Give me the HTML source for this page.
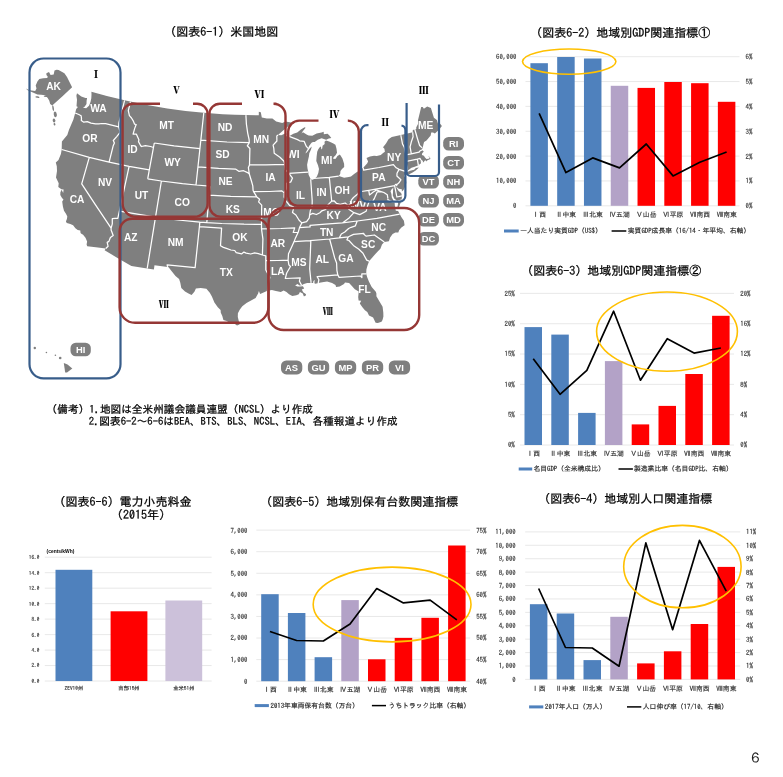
<!DOCTYPE html>
<html lang="ja"><head><meta charset="utf-8"><title>図表6</title>
<style>
html,body{margin:0;padding:0;background:#fff;}
body{width:783px;height:777px;overflow:hidden;}
svg{display:block;}
text{font-family:"IPAGothic","Liberation Sans","Noto Sans CJK JP",sans-serif;}
.st{font-family:"Liberation Sans",sans-serif;font-weight:bold;font-size:10.2px;fill:#fff;text-anchor:middle;}
.rn{font-family:"Noto Serif CJK SC","Noto Serif CJK JP","Liberation Serif",serif;font-weight:900;font-size:10px;fill:#000;text-anchor:middle;}
.ti{font-size:12px;fill:#000;stroke:#000;stroke-width:0.25px;}
.ax{font-size:6.8px;fill:#2b2b2b;stroke:#2b2b2b;stroke-width:0.12px;}
.lg{font-size:6.8px;fill:#222;stroke:#222;stroke-width:0.15px;}
</style></head><body>
<svg width="783" height="777" viewBox="0 0 783 777">
<rect width="783" height="777" fill="#fff"/>
<text x="164.2" y="35.7" class="ti">（図表6-1）米国地図</text>
<g id="usmap">
<path d="M77.0,93.3 L81.3,96.6 L85.5,98.1 L87.1,98.1 L86.6,100.7 L86.5,104.0 L84.6,106.8 L83.0,107.7 L86.2,108.2 L89.0,105.7 L90.5,101.9 L91.3,98.3 L91.5,94.6 L91.4,91.8 L106.8,96.0 L124.6,100.3 L142.9,104.2 L167.2,108.4 L185.6,110.9 L203.8,112.8 L222.6,114.2 L234.9,114.8 L245.9,115.1 L258.8,115.2 L258.8,111.8 L260.8,112.3 L261.8,117.4 L266.8,118.5 L269.9,118.5 L272.4,118.4 L276.2,121.6 L282.2,123.1 L285.6,121.4 L291.0,122.4 L293.9,123.1 L288.6,126.1 L283.7,129.9 L280.0,133.2 L278.1,135.1 L281.3,135.3 L285.1,133.5 L286.7,133.4 L285.8,136.2 L289.1,136.3 L293.4,133.7 L297.2,132.4 L300.9,129.4 L304.6,127.2 L305.6,127.7 L302.6,131.6 L301.5,133.4 L303.0,132.2 L307.0,134.8 L308.7,135.6 L312.3,135.8 L316.6,133.4 L321.6,132.4 L323.7,131.7 L323.8,134.2 L327.6,133.8 L329.4,135.4 L331.3,137.9 L328.8,138.5 L326.1,139.7 L321.6,138.2 L317.8,139.8 L314.7,141.9 L313.1,142.0 L311.8,142.4 L310.9,143.6 L309.1,146.0 L308.0,148.4 L305.9,152.2 L305.5,153.6 L307.2,152.1 L309.9,148.2 L311.8,146.4 L311.0,149.5 L309.3,153.3 L308.9,156.5 L308.0,160.2 L307.1,164.8 L307.5,168.5 L308.3,172.1 L308.6,174.8 L309.9,177.6 L310.7,179.2 L312.6,179.8 L315.0,178.5 L316.9,176.4 L318.3,173.0 L319.0,168.9 L318.0,165.3 L316.3,160.9 L316.6,156.7 L317.2,151.7 L318.3,149.3 L320.1,146.8 L321.0,146.8 L321.3,149.5 L322.2,148.5 L322.6,145.7 L324.7,144.1 L324.5,141.8 L326.0,140.5 L329.1,141.6 L332.9,143.2 L335.4,144.7 L335.9,146.5 L336.5,148.7 L337.0,152.7 L335.6,155.2 L333.5,157.3 L333.3,159.1 L335.7,158.8 L337.4,155.9 L339.9,154.5 L342.4,158.5 L344.1,163.7 L344.2,166.9 L342.0,169.1 L340.5,171.1 L340.2,173.9 L338.7,176.1 L341.9,176.9 L344.1,177.7 L348.9,176.9 L351.0,176.6 L354.1,173.9 L358.4,171.1 L361.1,169.1 L363.2,167.7 L367.1,163.5 L368.1,161.5 L366.5,158.1 L370.0,156.4 L374.0,155.8 L376.8,156.1 L380.8,155.1 L383.1,153.0 L384.9,151.8 L384.4,148.8 L383.0,147.2 L386.0,143.4 L388.5,139.2 L391.8,137.1 L400.8,135.1 L406.3,133.8 L412.7,132.3 L412.8,129.9 L416.3,129.0 L416.2,127.5 L418.0,123.9 L418.0,120.2 L418.6,117.7 L421.2,107.1 L422.7,107.1 L423.9,108.8 L427.2,106.5 L430.9,108.0 L433.9,117.7 L436.9,120.1 L437.9,123.6 L439.9,123.5 L441.9,126.0 L439.8,128.7 L437.1,131.4 L434.9,133.4 L433.0,132.5 L431.2,132.6 L430.7,135.5 L428.6,138.0 L426.5,140.4 L424.1,142.0 L423.4,144.5 L422.8,147.5 L422.1,149.1 L421.9,150.1 L423.8,151.5 L422.2,153.3 L421.9,155.0 L423.9,155.7 L425.0,157.6 L426.5,159.0 L428.6,158.7 L429.8,157.9 L429.0,156.3 L427.7,155.9 L429.9,157.0 L430.4,159.0 L427.5,160.2 L426.1,161.4 L425.3,160.0 L423.7,162.1 L422.8,162.7 L421.6,161.0 L420.6,160.5 L421.0,163.3 L418.4,165.3 L414.8,166.7 L411.5,167.7 L409.1,169.6 L406.9,171.0 L405.6,173.2 L405.0,174.3 L403.8,176.4 L405.6,176.5 L406.0,179.7 L406.3,182.9 L405.0,186.9 L403.5,190.0 L401.9,191.5 L401.8,189.3 L398.8,188.7 L396.9,187.2 L396.5,186.2 L396.6,187.7 L398.6,191.1 L401.1,192.9 L402.1,195.9 L401.5,200.0 L399.9,204.8 L398.1,209.1 L397.4,207.2 L398.1,203.3 L397.3,201.1 L394.2,198.5 L392.8,195.5 L393.0,192.6 L393.1,189.4 L393.4,187.4 L391.3,189.7 L390.5,191.3 L391.4,193.9 L391.8,197.6 L392.8,199.2 L393.9,201.4 L390.1,200.2 L387.9,198.7 L386.7,199.9 L389.1,200.9 L392.0,202.6 L394.6,202.6 L394.9,205.8 L395.8,210.7 L398.1,210.9 L399.7,214.1 L401.3,217.1 L403.9,220.8 L404.6,225.3 L401.4,227.6 L399.2,230.1 L398.3,232.6 L395.4,232.4 L392.6,234.1 L390.1,237.4 L388.9,241.3 L384.3,242.1 L382.0,244.4 L380.4,248.8 L377.7,251.5 L375.6,253.7 L371.9,258.0 L369.2,261.1 L367.5,265.5 L366.4,269.4 L366.2,273.8 L367.1,277.1 L369.0,281.8 L371.7,286.9 L375.8,291.8 L376.4,293.5 L376.4,296.3 L379.8,302.1 L382.6,306.7 L383.3,312.5 L383.4,316.4 L382.5,319.9 L381.5,321.8 L377.8,322.9 L375.6,322.7 L373.1,317.6 L369.0,315.5 L367.3,312.1 L364.9,310.2 L362.4,307.3 L359.8,303.6 L361.2,300.7 L358.6,300.6 L358.2,297.0 L358.7,291.4 L354.8,289.2 L351.9,285.9 L349.1,283.1 L345.0,282.4 L344.0,283.9 L339.7,286.4 L336.1,287.1 L335.5,285.0 L332.1,283.1 L327.1,281.5 L322.3,282.2 L318.2,283.1 L315.6,283.8 L314.4,283.3 L314.6,280.1 L313.4,281.1 L313.1,283.1 L311.1,282.9 L307.1,282.9 L303.9,284.0 L301.6,285.2 L299.6,285.6 L297.5,283.9 L295.1,285.4 L297.6,286.6 L300.4,286.4 L302.9,286.3 L304.2,288.5 L301.8,289.5 L303.2,292.2 L306.1,294.3 L305.4,295.9 L303.8,296.2 L302.8,293.6 L299.9,291.9 L298.8,294.3 L296.4,295.3 L292.3,295.9 L289.0,294.3 L286.5,292.1 L283.6,290.4 L280.8,291.9 L275.9,291.1 L271.9,290.0 L267.4,290.8 L263.0,292.7 L260.1,294.1 L258.9,290.9 L258.1,293.6 L255.6,298.1 L250.6,300.8 L246.5,303.1 L242.3,306.2 L239.7,309.7 L237.9,313.3 L237.8,316.9 L238.9,321.4 L239.6,324.5 L237.0,325.5 L234.2,323.6 L230.4,323.3 L226.7,321.1 L223.4,319.9 L222.3,316.0 L220.8,312.8 L220.6,310.1 L217.8,307.2 L214.4,302.5 L211.9,296.5 L209.8,292.8 L206.4,288.7 L200.8,288.1 L198.3,288.2 L195.9,288.6 L194.4,291.7 L191.6,295.0 L188.5,293.5 L185.0,291.4 L181.3,287.9 L180.3,282.7 L179.1,279.0 L175.5,275.9 L171.3,270.8 L168.6,267.3 L167.6,266.9 L154.5,265.3 L153.9,269.4 L147.2,268.5 L131.4,266.1 L117.5,257.9 L104.6,250.3 L105.8,248.5 L95.9,247.3 L87.2,246.3 L86.6,244.5 L87.1,241.4 L85.5,237.7 L83.1,234.8 L81.0,233.6 L80.5,232.7 L80.3,230.5 L77.7,229.9 L75.4,228.2 L73.1,225.2 L70.3,224.0 L66.8,223.1 L65.9,221.4 L66.9,218.9 L67.3,216.6 L66.1,213.9 L64.0,210.7 L62.9,206.4 L62.2,201.4 L63.5,199.4 L62.0,198.0 L60.3,195.1 L60.4,192.3 L61.6,189.7 L63.2,193.1 L63.6,189.4 L61.4,189.2 L58.3,186.9 L58.7,183.2 L56.0,177.6 L57.0,171.1 L56.8,166.3 L55.8,162.6 L58.5,160.0 L60.9,154.0 L61.7,149.5 L61.8,144.7 L61.9,141.4 L64.8,138.0 L67.3,134.9 L69.0,129.7 L70.3,126.7 L73.4,119.6 L75.2,113.0 L76.2,109.0 L77.9,107.1 L76.5,106.2 L77.0,99.8 L76.4,95.8Z" fill="#7f7f7f"/>
<path d="M405.3,175.3 L408.7,174.4 L412.6,172.4 L415.7,170.4 L418.9,167.6 L415.9,168.0 L414.1,169.7 L410.1,170.8 L406.8,172.3 L405.4,173.7Z" fill="#7f7f7f"/>
<path d="M75.2,113.0 L78.8,114.5 L81.1,115.7 L81.5,118.7 L81.3,120.5 L83.8,122.2 L87.3,121.7 L91.0,123.2 L95.5,123.9 L98.9,123.9 L101.7,123.5 L105.6,123.7 L118.7,126.8 M124.6,100.3 L118.9,122.9 L118.7,126.8 M118.7,126.8 L119.8,130.8 L120.1,132.3 L116.7,136.6 L113.3,140.5 L114.4,143.1 L113.1,146.1 L109.1,162.1 M61.7,149.5 L89.3,157.3 L109.1,162.1 L129.1,166.3 L149.3,169.9 M89.3,157.3 L81.7,183.8 L95.0,204.1 L111.1,228.2 M111.1,228.2 L111.1,230.1 L113.2,235.5 L110.4,237.5 L108.9,241.4 L107.2,242.4 L108.1,246.3 L105.8,248.5 M111.1,228.2 L112.3,223.8 L112.3,218.7 L115.1,218.3 L117.8,218.3 L119.4,211.2 M119.4,211.2 L129.1,166.3 M119.4,211.2 L155.5,217.2 L177.8,220.0 L199.8,222.1 L206.8,222.6 L221.9,223.5 L244.0,224.2 L261.5,224.3 M130.5,101.7 L128.3,110.7 L129.4,115.7 L131.5,118.0 L133.1,120.6 L134.6,124.2 L136.2,124.5 L134.7,128.4 L133.1,134.1 L136.4,134.2 L138.9,139.8 L138.5,141.6 L140.7,145.7 L141.5,146.5 L145.4,145.6 L150.6,146.5 L153.5,147.5 M154.3,143.0 L149.3,169.9 L147.7,178.9 M154.3,143.0 L174.1,145.9 L199.9,148.7 M147.7,178.9 L161.4,181.0 L182.5,183.7 L196.0,185.0 L209.9,186.1 M161.4,181.0 L155.5,217.2 L147.2,268.5 M203.8,112.8 L199.9,148.7 L196.0,185.0 M209.9,186.1 L209.1,195.2 L206.8,222.6 M209.1,195.2 L230.7,196.4 L256.8,196.9 M199.8,222.1 L199.4,226.7 L195.1,267.6 L167.1,264.9 L167.6,266.9 M199.4,226.7 L221.6,228.1 L220.5,245.8 L223.4,247.4 L226.4,248.4 L230.9,250.0 L234.7,250.5 L236.2,252.6 L241.5,253.9 L243.9,252.1 L246.2,253.1 L250.7,254.0 L254.6,252.9 L258.4,253.6 L262.4,255.0 M200.8,140.2 L227.0,142.0 L249.3,142.7 M198.0,166.8 L218.6,168.4 L235.5,169.1 L238.8,171.3 L243.6,170.7 L247.6,172.6 L249.3,174.0 M245.9,115.1 L246.4,124.1 L247.7,133.1 L249.1,139.5 L249.3,142.7 L247.3,145.8 L249.9,148.5 L249.5,164.9 L248.4,167.6 L249.3,174.0 M249.5,164.9 L266.0,164.9 L284.7,164.3 M284.7,164.3 L284.0,161.2 L279.9,157.2 L274.2,153.3 L273.8,148.3 L273.1,145.2 L276.9,141.0 L276.8,136.0 L278.1,135.1 M284.7,164.3 L285.3,169.8 L288.9,173.3 M288.9,173.3 L300.1,172.6 L308.3,172.1 M289.1,136.3 L297.6,139.6 L299.6,140.8 L304.2,141.4 L306.2,146.2 L308.0,148.4 M288.9,173.3 L292.5,178.1 L290.9,181.8 L286.5,183.4 L286.3,188.9 L284.2,192.9 M253.6,191.6 L269.5,191.5 L281.9,190.9 L284.2,192.9 M249.3,174.0 L251.5,181.3 L252.8,185.9 L253.1,190.5 L253.6,191.6 L256.8,196.9 L259.6,199.2 L258.6,201.9 L261.7,205.1 L261.5,224.3 L261.5,228.9 M261.5,228.9 L280.9,228.5 L294.7,227.9 L293.2,232.5 L298.2,232.3 M261.5,228.9 L262.9,238.9 L262.4,255.0 L265.8,255.8 L265.8,260.6 L265.8,270.0 L267.7,273.5 L269.8,277.3 L268.6,282.6 L268.2,285.4 L267.4,290.8 M265.8,260.6 L277.8,260.5 L288.1,260.2 M301.8,222.9 L299.5,227.6 L298.2,232.3 L295.5,237.9 L294.1,241.6 L292.0,246.3 L288.5,253.8 L288.1,260.2 L288.8,264.7 L290.5,266.5 L286.7,273.0 L285.3,278.5 L300.2,277.8 L299.4,281.1 L301.6,285.2 M294.1,241.6 L310.0,240.7 L329.6,239.0 L339.3,237.9 L348.5,236.8 M310.0,240.7 L310.8,241.5 L309.7,269.0 L311.1,282.9 M329.6,239.0 L334.7,258.0 L336.6,263.0 L336.9,270.3 L337.8,274.8 M318.2,283.1 L318.9,279.7 L317.1,276.7 L337.8,274.8 L339.1,277.4 L360.4,276.0 L361.9,277.6 L361.8,273.9 L366.2,273.8 M369.2,261.1 L366.7,260.1 L363.0,253.3 L358.9,249.3 L353.4,245.4 L348.9,240.5 L346.9,239.8 L348.5,236.8 M348.5,236.8 L353.5,234.4 L363.8,233.4 L363.9,234.3 L366.0,236.1 L374.4,235.0 L384.3,242.1 M339.3,237.9 L341.3,234.0 L344.8,232.0 L348.6,228.5 L351.1,227.3 L355.4,225.8 L357.2,221.0 M342.4,222.9 L357.2,221.0 L376.9,218.4 L399.7,214.1 M299.5,227.6 L310.1,226.9 L310.0,225.3 L325.3,224.2 L342.4,222.9 M301.8,222.9 L306.6,221.7 L309.3,217.8 L309.6,215.0 L312.6,213.4 L316.4,214.5 L319.9,212.8 L321.9,210.8 L325.8,209.3 L327.9,204.9 L331.7,201.1 L334.0,200.8 L336.4,203.3 L340.2,204.3 L345.1,203.0 L348.3,205.4 L351.0,203.3 L351.3,200.1 L353.5,197.5 L357.7,194.1 L359.1,191.6 L359.9,184.5 L360.2,183.2 M348.3,205.4 L348.8,209.2 L353.9,212.7 L349.1,217.9 L342.4,222.9 M353.9,212.7 L359.8,214.6 L366.1,211.3 L367.7,205.5 L369.3,201.1 L372.6,201.5 L374.5,198.1 L377.2,191.9 L381.8,191.8 M358.4,171.1 L360.2,183.2 L361.5,191.5 L368.8,190.3 L382.7,187.9 L394.6,185.6 L395.7,184.3 L397.0,184.4 M368.8,190.3 L369.5,195.0 L373.3,192.1 L376.5,190.0 L381.8,191.8 L383.9,192.5 L387.3,194.7 L387.9,198.7 M394.6,185.6 L396.9,197.0 L402.1,195.9 M397.3,201.1 L401.5,200.0 M363.2,167.7 L363.6,170.1 L378.9,167.5 L393.4,164.6 L396.2,167.8 L399.1,169.4 L405.2,171.4 M399.1,169.4 L397.0,173.2 L396.9,176.0 L400.9,179.8 L398.7,183.1 L397.0,184.4 L396.5,186.2 M406.9,171.0 L407.3,168.1 L405.8,161.5 L405.9,154.9 L404.3,147.3 L402.5,144.0 L400.8,135.1 M411.3,153.8 L410.1,146.9 L411.3,142.0 L413.1,136.8 L412.7,132.3 M405.9,154.9 L411.3,153.8 L419.1,152.2 L419.5,151.2 L421.9,149.9 M405.8,161.5 L412.5,160.1 L417.3,159.1 L420.1,158.4 L420.3,159.4 L422.0,160.9 L422.8,162.7 M417.3,159.1 L418.4,165.3 M422.2,147.9 L419.6,145.5 L417.2,137.7 L414.7,129.0 M310.7,179.2 L312.2,200.6 L312.1,206.6 L310.3,210.8 L309.6,215.0 M329.3,177.4 L331.7,201.1 M312.9,178.5 L329.3,177.4 L338.7,176.1 M284.2,192.9 L284.1,197.0 L285.2,199.9 L289.7,205.7 L293.4,206.9 L293.6,208.4 L292.5,212.4 L295.9,215.0 L299.1,220.3 L301.8,222.9" fill="none" stroke="#fff" stroke-width="1.25" stroke-linejoin="round"/>
<path d="M46.4,73.2 L49.0,72.1 L50.6,75.1 L53.7,74.5 L54.5,70.6 L56.7,69.7 L58.6,69.9 L64.4,73.2 L67.0,77.0 L72.1,87.3 L62.5,96.3 L52.2,105.6 L50.2,104.1 L49.3,100.8 L47.7,97.9 L45.1,95.3 L41.2,94.7 L37.4,94.4 L32.9,92.5 L27.7,90.2 L25.8,88.6 L29.7,90.2 L35.2,90.9 L36.5,88.6 L35.7,85.4 L37.4,81.5 L39.3,79.0 L43.2,78.3 L47.3,78.1 L47.7,76.4 L46.4,75.1Z" fill="#7f7f7f"/>
<ellipse cx="55.3" cy="114.4" rx="1.54" ry="2.83" transform="rotate(-10 55.3 114.4)" fill="#7f7f7f"/>
<ellipse cx="54.0" cy="120.5" rx="1.29" ry="1.93" transform="rotate(-10 54.0 120.5)" fill="#7f7f7f"/>
<ellipse cx="54.5" cy="124.3" rx="0.90" ry="1.29" transform="rotate(-15 54.5 124.3)" fill="#7f7f7f"/>
<ellipse cx="37.4" cy="97.1" rx="2.06" ry="0.77" transform="rotate(10 37.4 97.1)" fill="#7f7f7f"/>
<ellipse cx="46.1" cy="96.3" rx="2.45" ry="0.77" transform="rotate(5 46.1 96.3)" fill="#7f7f7f"/>
<ellipse cx="53.1" cy="108.2" rx="0.77" ry="3.09" transform="rotate(-8 53.1 108.2)" fill="#7f7f7f"/>
<path d="M63.8,363.0 L67.5,364.6 L72.3,368.4 L67.0,372.4 L65.2,372.6 Z" fill="#7f7f7f"/>
<circle cx="34.8" cy="348" r="1.2" fill="#7f7f7f"/>
<circle cx="46.4" cy="352.5" r="0.8" fill="#7f7f7f"/>
<circle cx="55.4" cy="355.3" r="0.8" fill="#7f7f7f"/>
<circle cx="60.2" cy="358" r="1.3" fill="#7f7f7f"/>
</g>
<text x="53.5" y="89.6" class="st">AK</text>
<text x="98.5" y="112.3" class="st">WA</text>
<text x="90.0" y="142.4" class="st">OR</text>
<text x="105.0" y="185.6" class="st">NV</text>
<text x="77.1" y="203.4" class="st">CA</text>
<text x="132.5" y="152.7" class="st">ID</text>
<text x="166.7" y="128.8" class="st">MT</text>
<text x="172.6" y="166.3" class="st">WY</text>
<text x="141.5" y="198.6" class="st">UT</text>
<text x="182.2" y="205.5" class="st">CO</text>
<text x="130.7" y="240.7" class="st">AZ</text>
<text x="175.7" y="245.9" class="st">NM</text>
<text x="225.0" y="131.2" class="st">ND</text>
<text x="222.5" y="158.2" class="st">SD</text>
<text x="225.6" y="184.8" class="st">NE</text>
<text x="232.8" y="212.8" class="st">KS</text>
<text x="261.1" y="142.8" class="st">MN</text>
<text x="270.6" y="180.6" class="st">IA</text>
<text x="271.4" y="216.2" class="st">MO</text>
<text x="293.3" y="157.7" class="st">WI</text>
<text x="300.5" y="198.7" class="st">IL</text>
<text x="321.6" y="196.1" class="st">IN</text>
<text x="342.2" y="193.6" class="st">OH</text>
<text x="326.7" y="164.2" class="st">MI</text>
<text x="333.7" y="218.7" class="st">KY</text>
<text x="326.7" y="236.0" class="st">TN</text>
<text x="240.0" y="240.6" class="st">OK</text>
<text x="226.3" y="276.1" class="st">TX</text>
<text x="277.8" y="247.0" class="st">AR</text>
<text x="277.8" y="275.4" class="st">LA</text>
<text x="298.9" y="265.8" class="st">MS</text>
<text x="322.3" y="263.0" class="st">AL</text>
<text x="346.0" y="261.7" class="st">GA</text>
<text x="368.2" y="248.4" class="st">SC</text>
<text x="364.5" y="293.0" class="st">FL</text>
<text x="378.7" y="230.7" class="st">NC</text>
<text x="394.2" y="160.8" class="st">NY</text>
<text x="378.8" y="180.9" class="st">PA</text>
<text x="425.6" y="129.4" class="st">ME</text>
<text x="380.0" y="211.0" class="st">VA</text>
<text x="358.0" y="208.6" class="st">WV</text>
<rect x="443.2" y="137.0" width="20.8" height="13.5" rx="5.3" fill="#7f7f7f"/>
<text x="453.6" y="147.2" class="st" style="font-size:9.4px">RI</text>
<rect x="443.2" y="156.0" width="20.8" height="13.5" rx="5.3" fill="#7f7f7f"/>
<text x="453.6" y="166.2" class="st" style="font-size:9.4px">CT</text>
<rect x="443.2" y="175.0" width="20.8" height="13.5" rx="5.3" fill="#7f7f7f"/>
<text x="453.6" y="185.2" class="st" style="font-size:9.4px">NH</text>
<rect x="443.2" y="194.0" width="20.8" height="13.5" rx="5.3" fill="#7f7f7f"/>
<text x="453.6" y="204.2" class="st" style="font-size:9.4px">MA</text>
<rect x="443.2" y="213.0" width="20.8" height="13.5" rx="5.3" fill="#7f7f7f"/>
<text x="453.6" y="223.2" class="st" style="font-size:9.4px">MD</text>
<rect x="418.3" y="175.0" width="20.6" height="13.5" rx="5.3" fill="#7f7f7f"/>
<text x="428.6" y="185.2" class="st" style="font-size:9.4px">VT</text>
<rect x="418.3" y="194.0" width="20.6" height="13.5" rx="5.3" fill="#7f7f7f"/>
<text x="428.6" y="204.2" class="st" style="font-size:9.4px">NJ</text>
<rect x="418.3" y="213.0" width="20.6" height="13.5" rx="5.3" fill="#7f7f7f"/>
<text x="428.6" y="223.2" class="st" style="font-size:9.4px">DE</text>
<rect x="418.3" y="232.0" width="20.6" height="13.5" rx="5.3" fill="#7f7f7f"/>
<text x="428.6" y="242.2" class="st" style="font-size:9.4px">DC</text>
<rect x="281.0" y="360.4" width="21.3" height="14.0" rx="5.3" fill="#7f7f7f"/>
<text x="291.6" y="370.8" class="st" style="font-size:9.4px">AS</text>
<rect x="307.9" y="360.4" width="21.3" height="14.0" rx="5.3" fill="#7f7f7f"/>
<text x="318.6" y="370.8" class="st" style="font-size:9.4px">GU</text>
<rect x="334.9" y="360.4" width="21.3" height="14.0" rx="5.3" fill="#7f7f7f"/>
<text x="345.5" y="370.8" class="st" style="font-size:9.4px">MP</text>
<rect x="361.9" y="360.4" width="21.3" height="14.0" rx="5.3" fill="#7f7f7f"/>
<text x="372.5" y="370.8" class="st" style="font-size:9.4px">PR</text>
<rect x="388.8" y="360.4" width="21.3" height="14.0" rx="5.3" fill="#7f7f7f"/>
<text x="399.4" y="370.8" class="st" style="font-size:9.4px">VI</text>
<rect x="70.5" y="342.8" width="20.3" height="13.5" rx="5.3" fill="#7f7f7f"/>
<text x="80.7" y="352.9" class="st" style="font-size:9.4px">HI</text>
<path d="M43.5,58.5 H106.5 A14,14 0 0 1 120.5,72.5 V364.3 A14,14 0 0 1 106.5,378.3 H43.5 A14,14 0 0 1 29.5,364.3 V72.5 A14,14 0 0 1 43.5,58.5Z" fill="none" stroke="#385d8a" stroke-width="2.2"/>
<path d="M160,103.7 H133.1 A10.5,10.5 0 0 0 122.6,114.2 V203.3 A13.5,13.5 0 0 0 136.1,216.8 H194.1 A13.5,13.5 0 0 0 207.6,203.3 V114.2 A10.5,10.5 0 0 0 197.1,103.7 H193" fill="none" stroke="#953735" stroke-width="2.4"/>
<path d="M242,103.7 H219.9 A10.5,10.5 0 0 0 209.4,114.2 V205.6 A11,11 0 0 0 220.4,216.6 H265.5 A20,20 0 0 0 285.5,196.6 V115.7 A12,12 0 0 0 273.5,103.7 H276.5" fill="none" stroke="#953735" stroke-width="2.4"/>
<path d="M318.5,120.6 H299.2 A11,11 0 0 0 288.2,131.6 V196.6 A9,9 0 0 0 297.2,205.6 H349.8 A9,9 0 0 0 358.8,196.6 V131.6 A11,11 0 0 0 347.8,120.6 H349" fill="none" stroke="#953735" stroke-width="2.4"/>
<path d="M368.5,125.2 H367 A6,6 0 0 0 361,131.2 V195.7 A6,6 0 0 0 367,201.7 H399.4 A6,6 0 0 0 405.4,195.7 V130.5 A5,5 0 0 0 401.5,125.5" fill="none" stroke="#385d8a" stroke-width="2.2"/>
<path d="M406.6,103 V172.0 A4,4 0 0 0 410.6,176.0 H435.0 A4,4 0 0 0 439.0,172.0 V104.5" fill="none" stroke="#385d8a" stroke-width="2.2"/>
<path d="M132.1,218.8 H255.9 A12.5,12.5 0 0 1 268.4,231.3 V307.3 A15.5,15.5 0 0 1 252.9,322.8 H135.1 A15.5,15.5 0 0 1 119.6,307.3 V231.3 A12.5,12.5 0 0 1 132.1,218.8Z" fill="none" stroke="#953735" stroke-width="2.4"/>
<path d="M283.6,208.0 H404.2 A15,15 0 0 1 419.2,223.0 V315 A15,15 0 0 1 404.2,330 H283.6 A15,15 0 0 1 268.6,315 V223.0 A15,15 0 0 1 283.6,208.0Z" fill="none" stroke="#953735" stroke-width="2.4"/>
<text x="95.9" y="77.8" class="rn">Ⅰ</text>
<text x="176.5" y="94.0" class="rn">Ⅴ</text>
<text x="259.3" y="97.5" class="rn">Ⅵ</text>
<text x="334.4" y="117.6" class="rn">Ⅳ</text>
<text x="385.2" y="126.3" class="rn">Ⅱ</text>
<text x="423.8" y="94.39999999999999" class="rn">Ⅲ</text>
<text x="163.8" y="307.6" class="rn">Ⅶ</text>
<text x="327.7" y="314.6" class="rn">Ⅷ</text>
<text x="46.6" y="413" class="ti" style="font-size:10.67px">（備考）1.地図は全米州議会議員連盟（NCSL）より作成</text>
<text x="88.7" y="425" class="ti" style="font-size:10.67px">2.図表6-2～6-6はBEA、BTS、BLS、NCSL、EIA、各種報道より作成</text>
<text x="530.3" y="37.0" class="ti">（図表6-2）地域別GDP関連指標①</text>
<line x1="525.5" x2="739.5" y1="56.70" y2="56.70" stroke="#e2e2e2" stroke-width="0.8"/>
<text x="516.5" y="59.10" class="ax" text-anchor="end">60,000</text>
<text x="745.5" y="59.10" class="ax">6%</text>
<line x1="525.5" x2="739.5" y1="81.55" y2="81.55" stroke="#e2e2e2" stroke-width="0.8"/>
<text x="516.5" y="83.95" class="ax" text-anchor="end">50,000</text>
<text x="745.5" y="83.95" class="ax">5%</text>
<line x1="525.5" x2="739.5" y1="106.40" y2="106.40" stroke="#e2e2e2" stroke-width="0.8"/>
<text x="516.5" y="108.80" class="ax" text-anchor="end">40,000</text>
<text x="745.5" y="108.80" class="ax">4%</text>
<line x1="525.5" x2="739.5" y1="131.25" y2="131.25" stroke="#e2e2e2" stroke-width="0.8"/>
<text x="516.5" y="133.65" class="ax" text-anchor="end">30,000</text>
<text x="745.5" y="133.65" class="ax">3%</text>
<line x1="525.5" x2="739.5" y1="156.10" y2="156.10" stroke="#e2e2e2" stroke-width="0.8"/>
<text x="516.5" y="158.50" class="ax" text-anchor="end">20,000</text>
<text x="745.5" y="158.50" class="ax">2%</text>
<line x1="525.5" x2="739.5" y1="180.95" y2="180.95" stroke="#e2e2e2" stroke-width="0.8"/>
<text x="516.5" y="183.35" class="ax" text-anchor="end">10,000</text>
<text x="745.5" y="183.35" class="ax">1%</text>
<line x1="525.5" x2="739.5" y1="205.80" y2="205.80" stroke="#e2e2e2" stroke-width="0.8"/>
<text x="516.5" y="208.20" class="ax" text-anchor="end">0</text>
<text x="745.5" y="208.20" class="ax">0%</text>
<rect x="530.40" y="63.20" width="17.5" height="142.60" fill="#4f81bd"/>
<text x="539.15" y="217.40" class="ax" text-anchor="middle">Ⅰ西</text>
<rect x="557.18" y="57.00" width="17.5" height="148.80" fill="#4f81bd"/>
<text x="565.93" y="217.40" class="ax" text-anchor="middle">Ⅱ中東</text>
<rect x="583.96" y="58.50" width="17.5" height="147.30" fill="#4f81bd"/>
<text x="592.71" y="217.40" class="ax" text-anchor="middle">Ⅲ北東</text>
<rect x="610.74" y="85.80" width="17.5" height="120.00" fill="#b3a2c7"/>
<text x="619.49" y="217.40" class="ax" text-anchor="middle">Ⅳ五湖</text>
<rect x="637.52" y="87.90" width="17.5" height="117.90" fill="#ff0000"/>
<text x="646.27" y="217.40" class="ax" text-anchor="middle">Ⅴ山岳</text>
<rect x="664.30" y="82.00" width="17.5" height="123.80" fill="#ff0000"/>
<text x="673.05" y="217.40" class="ax" text-anchor="middle">Ⅵ平原</text>
<rect x="691.08" y="83.20" width="17.5" height="122.60" fill="#ff0000"/>
<text x="699.83" y="217.40" class="ax" text-anchor="middle">Ⅶ南西</text>
<rect x="717.86" y="101.80" width="17.5" height="104.00" fill="#ff0000"/>
<text x="726.61" y="217.40" class="ax" text-anchor="middle">Ⅷ南東</text>
<polyline points="539.15,113.40 565.93,172.60 592.71,157.90 619.49,167.90 646.27,144.00 673.05,175.90 699.83,162.30 726.61,152.00" fill="none" stroke="#000" stroke-width="1.7" stroke-linejoin="round"/>
<line x1="504" x2="518.7" y1="231.0" y2="231.0" stroke="#4f81bd" stroke-width="3"/>
<text x="520.2" y="233.4" class="lg">一人当たり実質GDP（US$）</text>
<line x1="611.6" x2="626.3" y1="231.0" y2="231.0" stroke="#000" stroke-width="1.5"/>
<text x="627.8" y="233.4" class="lg">実質GDP成長率（16/14・年平均、右軸）</text>
<ellipse cx="569.2" cy="61.6" rx="46.7" ry="12.6" fill="none" stroke="#ffc000" stroke-width="1.6"/>
<text x="521.2" y="275.1" class="ti">（図表6-3）地域別GDP関連指標②</text>
<line x1="520" x2="734" y1="293.40" y2="293.40" stroke="#e2e2e2" stroke-width="0.8"/>
<text x="514.7" y="295.80" class="ax" text-anchor="end">25%</text>
<text x="740.3" y="295.80" class="ax">20%</text>
<line x1="520" x2="734" y1="323.72" y2="323.72" stroke="#e2e2e2" stroke-width="0.8"/>
<text x="514.7" y="326.12" class="ax" text-anchor="end">20%</text>
<text x="740.3" y="326.12" class="ax">16%</text>
<line x1="520" x2="734" y1="354.04" y2="354.04" stroke="#e2e2e2" stroke-width="0.8"/>
<text x="514.7" y="356.44" class="ax" text-anchor="end">15%</text>
<text x="740.3" y="356.44" class="ax">12%</text>
<line x1="520" x2="734" y1="384.36" y2="384.36" stroke="#e2e2e2" stroke-width="0.8"/>
<text x="514.7" y="386.76" class="ax" text-anchor="end">10%</text>
<text x="740.3" y="386.76" class="ax">8%</text>
<line x1="520" x2="734" y1="414.68" y2="414.68" stroke="#e2e2e2" stroke-width="0.8"/>
<text x="514.7" y="417.08" class="ax" text-anchor="end">5%</text>
<text x="740.3" y="417.08" class="ax">4%</text>
<line x1="520" x2="734" y1="445.00" y2="445.00" stroke="#e2e2e2" stroke-width="0.8"/>
<text x="514.7" y="447.40" class="ax" text-anchor="end">0%</text>
<text x="740.3" y="447.40" class="ax">0%</text>
<rect x="524.50" y="327.10" width="17.5" height="117.90" fill="#4f81bd"/>
<text x="533.25" y="455.90" class="ax" text-anchor="middle">Ⅰ西</text>
<rect x="551.30" y="334.60" width="17.5" height="110.40" fill="#4f81bd"/>
<text x="560.05" y="455.90" class="ax" text-anchor="middle">Ⅱ中東</text>
<rect x="578.10" y="412.90" width="17.5" height="32.10" fill="#4f81bd"/>
<text x="586.85" y="455.90" class="ax" text-anchor="middle">Ⅲ北東</text>
<rect x="604.90" y="361.10" width="17.5" height="83.90" fill="#b3a2c7"/>
<text x="613.65" y="455.90" class="ax" text-anchor="middle">Ⅳ五湖</text>
<rect x="631.70" y="424.40" width="17.5" height="20.60" fill="#ff0000"/>
<text x="640.45" y="455.90" class="ax" text-anchor="middle">Ⅴ山岳</text>
<rect x="658.50" y="405.90" width="17.5" height="39.10" fill="#ff0000"/>
<text x="667.25" y="455.90" class="ax" text-anchor="middle">Ⅵ平原</text>
<rect x="685.30" y="374.00" width="17.5" height="71.00" fill="#ff0000"/>
<text x="694.05" y="455.90" class="ax" text-anchor="middle">Ⅶ南西</text>
<rect x="712.10" y="315.80" width="17.5" height="129.20" fill="#ff0000"/>
<text x="720.85" y="455.90" class="ax" text-anchor="middle">Ⅷ南東</text>
<polyline points="533.25,358.80 560.05,394.30 586.85,370.40 613.65,311.20 640.45,380.20 667.25,338.70 694.05,353.10 720.85,348.00" fill="none" stroke="#000" stroke-width="1.7" stroke-linejoin="round"/>
<line x1="518.7" x2="532.2" y1="469.0" y2="469.0" stroke="#4f81bd" stroke-width="3"/>
<text x="533.4" y="471.4" class="lg">名目GDP（全米構成比）</text>
<line x1="618.5" x2="632.9" y1="469.0" y2="469.0" stroke="#000" stroke-width="1.5"/>
<text x="634.0" y="471.4" class="lg">製造業比率（名目GDP比、右軸）</text>
<ellipse cx="667.0" cy="331.6" rx="70.4" ry="39.6" fill="none" stroke="#ffc000" stroke-width="1.6"/>
<text x="538.2" y="503.3" class="ti">（図表6-4）地域別人口関連指標</text>
<line x1="525.2" x2="740.3" y1="531.90" y2="531.90" stroke="#e2e2e2" stroke-width="0.8"/>
<text x="515.7" y="534.30" class="ax" text-anchor="end">11,000</text>
<text x="746.0" y="534.30" class="ax">11%</text>
<line x1="525.2" x2="740.3" y1="545.31" y2="545.31" stroke="#e2e2e2" stroke-width="0.8"/>
<text x="515.7" y="547.71" class="ax" text-anchor="end">10,000</text>
<text x="746.0" y="547.71" class="ax">10%</text>
<line x1="525.2" x2="740.3" y1="558.72" y2="558.72" stroke="#e2e2e2" stroke-width="0.8"/>
<text x="515.7" y="561.12" class="ax" text-anchor="end">9,000</text>
<text x="746.0" y="561.12" class="ax">9%</text>
<line x1="525.2" x2="740.3" y1="572.13" y2="572.13" stroke="#e2e2e2" stroke-width="0.8"/>
<text x="515.7" y="574.53" class="ax" text-anchor="end">8,000</text>
<text x="746.0" y="574.53" class="ax">8%</text>
<line x1="525.2" x2="740.3" y1="585.54" y2="585.54" stroke="#e2e2e2" stroke-width="0.8"/>
<text x="515.7" y="587.94" class="ax" text-anchor="end">7,000</text>
<text x="746.0" y="587.94" class="ax">7%</text>
<line x1="525.2" x2="740.3" y1="598.95" y2="598.95" stroke="#e2e2e2" stroke-width="0.8"/>
<text x="515.7" y="601.35" class="ax" text-anchor="end">6,000</text>
<text x="746.0" y="601.35" class="ax">6%</text>
<line x1="525.2" x2="740.3" y1="612.35" y2="612.35" stroke="#e2e2e2" stroke-width="0.8"/>
<text x="515.7" y="614.75" class="ax" text-anchor="end">5,000</text>
<text x="746.0" y="614.75" class="ax">5%</text>
<line x1="525.2" x2="740.3" y1="625.76" y2="625.76" stroke="#e2e2e2" stroke-width="0.8"/>
<text x="515.7" y="628.16" class="ax" text-anchor="end">4,000</text>
<text x="746.0" y="628.16" class="ax">4%</text>
<line x1="525.2" x2="740.3" y1="639.17" y2="639.17" stroke="#e2e2e2" stroke-width="0.8"/>
<text x="515.7" y="641.57" class="ax" text-anchor="end">3,000</text>
<text x="746.0" y="641.57" class="ax">3%</text>
<line x1="525.2" x2="740.3" y1="652.58" y2="652.58" stroke="#e2e2e2" stroke-width="0.8"/>
<text x="515.7" y="654.98" class="ax" text-anchor="end">2,000</text>
<text x="746.0" y="654.98" class="ax">2%</text>
<line x1="525.2" x2="740.3" y1="665.99" y2="665.99" stroke="#e2e2e2" stroke-width="0.8"/>
<text x="515.7" y="668.39" class="ax" text-anchor="end">1,000</text>
<text x="746.0" y="668.39" class="ax">1%</text>
<line x1="525.2" x2="740.3" y1="679.40" y2="679.40" stroke="#e2e2e2" stroke-width="0.8"/>
<text x="515.7" y="681.80" class="ax" text-anchor="end">0</text>
<text x="746.0" y="681.80" class="ax">0%</text>
<rect x="529.90" y="604.20" width="17.5" height="75.20" fill="#4f81bd"/>
<text x="538.65" y="691.30" class="ax" text-anchor="middle">Ⅰ西</text>
<rect x="556.70" y="613.50" width="17.5" height="65.90" fill="#4f81bd"/>
<text x="565.45" y="691.30" class="ax" text-anchor="middle">Ⅱ中東</text>
<rect x="583.50" y="660.10" width="17.5" height="19.30" fill="#4f81bd"/>
<text x="592.25" y="691.30" class="ax" text-anchor="middle">Ⅲ北東</text>
<rect x="610.30" y="616.80" width="17.5" height="62.60" fill="#b3a2c7"/>
<text x="619.05" y="691.30" class="ax" text-anchor="middle">Ⅳ五湖</text>
<rect x="637.10" y="663.40" width="17.5" height="16.00" fill="#ff0000"/>
<text x="645.85" y="691.30" class="ax" text-anchor="middle">Ⅴ山岳</text>
<rect x="663.90" y="651.30" width="17.5" height="28.10" fill="#ff0000"/>
<text x="672.65" y="691.30" class="ax" text-anchor="middle">Ⅵ平原</text>
<rect x="690.70" y="624.00" width="17.5" height="55.40" fill="#ff0000"/>
<text x="699.45" y="691.30" class="ax" text-anchor="middle">Ⅶ南西</text>
<rect x="717.50" y="566.90" width="17.5" height="112.50" fill="#ff0000"/>
<text x="726.25" y="691.30" class="ax" text-anchor="middle">Ⅷ南東</text>
<polyline points="538.65,588.50 565.45,647.50 592.25,648.00 619.05,666.20 645.85,542.90 672.65,629.70 699.45,540.40 726.25,591.10" fill="none" stroke="#000" stroke-width="1.7" stroke-linejoin="round"/>
<line x1="529.1" x2="543.3" y1="706.9" y2="706.9" stroke="#4f81bd" stroke-width="3"/>
<text x="545.0" y="709.3" class="lg">2017年人口（万人）</text>
<line x1="627.0" x2="641.3" y1="706.9" y2="706.9" stroke="#000" stroke-width="1.5"/>
<text x="642.8" y="709.3" class="lg">人口伸び率（17/10、右軸）</text>
<ellipse cx="682.4" cy="566.6" rx="58.7" ry="41.2" fill="none" stroke="#ffc000" stroke-width="1.6"/>
<text x="260.3" y="506.3" class="ti">（図表6-5）地域別保有台数関連指標</text>
<line x1="256.3" x2="470.2" y1="530.10" y2="530.10" stroke="#e2e2e2" stroke-width="0.8"/>
<text x="247.5" y="532.50" class="ax" text-anchor="end">7,000</text>
<text x="476.2" y="532.50" class="ax">75%</text>
<line x1="256.3" x2="470.2" y1="551.69" y2="551.69" stroke="#e2e2e2" stroke-width="0.8"/>
<text x="247.5" y="554.09" class="ax" text-anchor="end">6,000</text>
<text x="476.2" y="554.09" class="ax">70%</text>
<line x1="256.3" x2="470.2" y1="573.27" y2="573.27" stroke="#e2e2e2" stroke-width="0.8"/>
<text x="247.5" y="575.67" class="ax" text-anchor="end">5,000</text>
<text x="476.2" y="575.67" class="ax">65%</text>
<line x1="256.3" x2="470.2" y1="594.86" y2="594.86" stroke="#e2e2e2" stroke-width="0.8"/>
<text x="247.5" y="597.26" class="ax" text-anchor="end">4,000</text>
<text x="476.2" y="597.26" class="ax">60%</text>
<line x1="256.3" x2="470.2" y1="616.44" y2="616.44" stroke="#e2e2e2" stroke-width="0.8"/>
<text x="247.5" y="618.84" class="ax" text-anchor="end">3,000</text>
<text x="476.2" y="618.84" class="ax">55%</text>
<line x1="256.3" x2="470.2" y1="638.03" y2="638.03" stroke="#e2e2e2" stroke-width="0.8"/>
<text x="247.5" y="640.43" class="ax" text-anchor="end">2,000</text>
<text x="476.2" y="640.43" class="ax">50%</text>
<line x1="256.3" x2="470.2" y1="659.61" y2="659.61" stroke="#e2e2e2" stroke-width="0.8"/>
<text x="247.5" y="662.01" class="ax" text-anchor="end">1,000</text>
<text x="476.2" y="662.01" class="ax">45%</text>
<line x1="256.3" x2="470.2" y1="681.20" y2="681.20" stroke="#e2e2e2" stroke-width="0.8"/>
<text x="247.5" y="683.60" class="ax" text-anchor="end">0</text>
<text x="476.2" y="683.60" class="ax">40%</text>
<rect x="261.20" y="594.20" width="17.5" height="87.00" fill="#4f81bd"/>
<text x="269.95" y="691.80" class="ax" text-anchor="middle">Ⅰ西</text>
<rect x="287.90" y="613.00" width="17.5" height="68.20" fill="#4f81bd"/>
<text x="296.65" y="691.80" class="ax" text-anchor="middle">Ⅱ中東</text>
<rect x="314.60" y="657.20" width="17.5" height="24.00" fill="#4f81bd"/>
<text x="323.35" y="691.80" class="ax" text-anchor="middle">Ⅲ北東</text>
<rect x="341.30" y="600.10" width="17.5" height="81.10" fill="#b3a2c7"/>
<text x="350.05" y="691.80" class="ax" text-anchor="middle">Ⅳ五湖</text>
<rect x="368.00" y="659.30" width="17.5" height="21.90" fill="#ff0000"/>
<text x="376.75" y="691.80" class="ax" text-anchor="middle">Ⅴ山岳</text>
<rect x="394.70" y="637.90" width="17.5" height="43.30" fill="#ff0000"/>
<text x="403.45" y="691.80" class="ax" text-anchor="middle">Ⅵ平原</text>
<rect x="421.40" y="617.80" width="17.5" height="63.40" fill="#ff0000"/>
<text x="430.15" y="691.80" class="ax" text-anchor="middle">Ⅶ南西</text>
<rect x="448.10" y="545.50" width="17.5" height="135.70" fill="#ff0000"/>
<text x="456.85" y="691.80" class="ax" text-anchor="middle">Ⅷ南東</text>
<polyline points="269.95,631.50 296.65,640.50 323.35,641.00 350.05,624.00 376.75,588.60 403.45,602.90 430.15,600.10 456.85,619.90" fill="none" stroke="#000" stroke-width="1.7" stroke-linejoin="round"/>
<line x1="254.7" x2="268.9" y1="705.6" y2="705.6" stroke="#4f81bd" stroke-width="3"/>
<text x="270.5" y="708.0" class="lg">2013年車両保有台数（万台）</text>
<line x1="371.9" x2="386.0" y1="705.6" y2="705.6" stroke="#000" stroke-width="1.5"/>
<text x="388.6" y="708.0" class="lg">うちトラック比率（右軸）</text>
<ellipse cx="392.1" cy="604.5" rx="78.9" ry="37.4" fill="none" stroke="#ffc000" stroke-width="1.6"/>
<text x="53.4" y="505.7" class="ti">（図表6-6）電力小売料金</text>
<text x="111.1" y="518.5" class="ti">（2015年）</text>
<text x="46.6" y="553.4" style="font-family:'Liberation Sans',sans-serif;font-weight:bold;font-size:4.9px;fill:#000">(cents/kWh)</text>
<line x1="44.8" x2="211.6" y1="557.20" y2="557.20" stroke="#e2e2e2" stroke-width="0.8"/>
<text x="39.5" y="559.10" class="ax" style="font-size:5.33px" text-anchor="end">16.0</text>
<line x1="44.8" x2="211.6" y1="572.68" y2="572.68" stroke="#e2e2e2" stroke-width="0.8"/>
<text x="39.5" y="574.58" class="ax" style="font-size:5.33px" text-anchor="end">14.0</text>
<line x1="44.8" x2="211.6" y1="588.16" y2="588.16" stroke="#e2e2e2" stroke-width="0.8"/>
<text x="39.5" y="590.06" class="ax" style="font-size:5.33px" text-anchor="end">12.0</text>
<line x1="44.8" x2="211.6" y1="603.64" y2="603.64" stroke="#e2e2e2" stroke-width="0.8"/>
<text x="39.5" y="605.54" class="ax" style="font-size:5.33px" text-anchor="end">10.0</text>
<line x1="44.8" x2="211.6" y1="619.12" y2="619.12" stroke="#e2e2e2" stroke-width="0.8"/>
<text x="39.5" y="621.02" class="ax" style="font-size:5.33px" text-anchor="end">8.0</text>
<line x1="44.8" x2="211.6" y1="634.60" y2="634.60" stroke="#e2e2e2" stroke-width="0.8"/>
<text x="39.5" y="636.50" class="ax" style="font-size:5.33px" text-anchor="end">6.0</text>
<line x1="44.8" x2="211.6" y1="650.08" y2="650.08" stroke="#e2e2e2" stroke-width="0.8"/>
<text x="39.5" y="651.98" class="ax" style="font-size:5.33px" text-anchor="end">4.0</text>
<line x1="44.8" x2="211.6" y1="665.56" y2="665.56" stroke="#e2e2e2" stroke-width="0.8"/>
<text x="39.5" y="667.46" class="ax" style="font-size:5.33px" text-anchor="end">2.0</text>
<line x1="44.8" x2="211.6" y1="681.04" y2="681.04" stroke="#e2e2e2" stroke-width="0.8"/>
<text x="39.5" y="682.94" class="ax" style="font-size:5.33px" text-anchor="end">0.0</text>
<rect x="55.5" y="569.8" width="36.8" height="111.24" fill="#4f81bd"/>
<text x="73.9" y="690.0" class="ax" style="font-size:5.33px" text-anchor="middle">ZEV10州</text>
<rect x="110.6" y="611.3" width="36.8" height="69.74" fill="#ff0000"/>
<text x="129.0" y="690.0" class="ax" style="font-size:5.33px" text-anchor="middle">南部15州</text>
<rect x="165.4" y="600.5" width="36.8" height="80.54" fill="#ccc1da"/>
<text x="183.8" y="690.0" class="ax" style="font-size:5.33px" text-anchor="middle">全米51州</text>
<text x="748.4" y="763.4" style="font-family:IPAGothic,sans-serif;font-size:13.8px;fill:#222">６</text>
</svg>
</body></html>
